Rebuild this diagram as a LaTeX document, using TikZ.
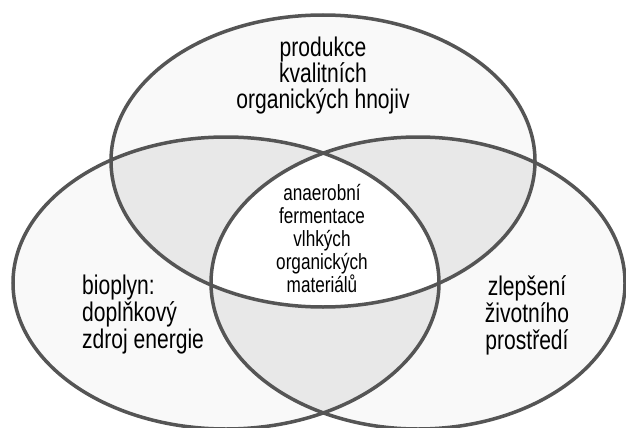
\documentclass[tikz,border=0pt]{standalone}
\usepackage{fontspec}
\setmainfont{Liberation Sans}[FakeStretch=0.78]
\definecolor{rimgray}{HTML}{555555}
\definecolor{pairgray}{HTML}{E8E8E8}
\definecolor{onegray}{HTML}{F9F9F9}
\tikzset{rim/.style={line width=3.5pt,draw=rimgray},
         venntext/.style={inner sep=0pt,align=center,font=\fontsize{27}{26}\selectfont},
         coretext/.style={inner sep=0pt,align=center,font=\fontsize{22}{23}\selectfont}}
\def\topoval{(323,161) ellipse [x radius=212pt, y radius=146pt]}
\def\leftoval{(226,283) ellipse [x radius=213pt, y radius=146pt]}
\def\rightoval{(418,283) ellipse [x radius=207pt, y radius=146pt]}

\begin{document}
\begin{tikzpicture}[x=1pt,y=-1pt]
                  \useasboundingbox (0,0) rectangle (626,428);
                  \clip (0,0) rectangle (626,428);
                  \fill[white] (0,0) rectangle (626,428);
                  \fill[onegray] \topoval \leftoval \rightoval;
                  \begin{scope} \clip \topoval; \fill[pairgray] \leftoval; \fill[pairgray] \rightoval; \end{scope}
                  \begin{scope} \clip \leftoval; \fill[pairgray] \rightoval; \end{scope}
                  \begin{scope} \clip \topoval; \clip \leftoval; \fill[white] \rightoval; \end{scope}
                  \draw[rim] \topoval;
                  \draw[rim] \leftoval;
                  \draw[rim] \rightoval;
                  \node[venntext] (hnojiva) at (323,76) {produkce\\kvalitních\\organických hnojiv};
                  \node[coretext] (fermentace) at (322,239) {anaerobní\\fermentace\\vlhkých\\organických\\materiálů};
                  \node[venntext,align=left,anchor=west,font=\fontsize{27}{27}\selectfont] (bioplyn) at (82,315) {bioplyn:\\doplňkový\\zdroj energie};
                  \node[venntext,font=\fontsize{27}{27}\selectfont] (prostredi) at (527,315) {zlepšení\\životního\\prostředí};
              \end{tikzpicture}
\end{document}
